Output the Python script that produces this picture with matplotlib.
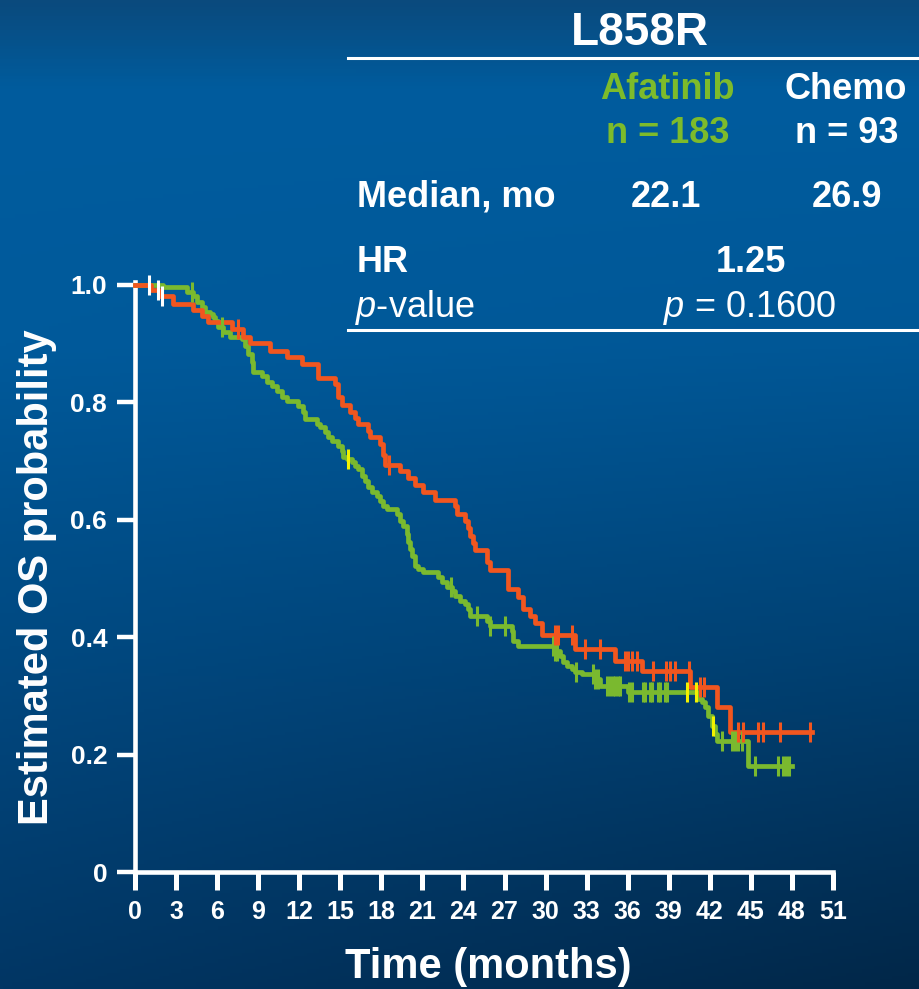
import numpy as np
import matplotlib
matplotlib.use('Agg')
import matplotlib.pyplot as plt
from matplotlib.lines import Line2D

W, H = 920, 989

# Chemo (red): drop times (months) and survival after each drop
chemo_t = [1.17, 1.75, 2.78, 4.24, 4.89, 5.33, 7.09, 7.89, 8.40, 9.86, 11.10, 12.2,
           13.37, 14.6, 14.83, 15.12, 15.7, 16.07, 16.29, 17.02, 17.17, 17.9, 18.12,
           18.26, 19.36, 19.94, 20.45, 21.04, 21.91, 23.37, 23.52, 24.1, 24.32, 24.47,
           24.69, 24.84, 25.71, 25.93, 27.25, 27.98, 28.34, 28.85, 29.22, 29.73, 32.14,
           35.06, 37.03, 40.54, 42.5, 43.46]
chemo_s = [0.991, 0.981, 0.968, 0.957, 0.947, 0.937, 0.925, 0.911, 0.901, 0.888, 0.877,
           0.865, 0.842, 0.831, 0.809, 0.796, 0.784, 0.773, 0.763, 0.751, 0.741, 0.729,
           0.710, 0.693, 0.683, 0.671, 0.659, 0.647, 0.634, 0.624, 0.610, 0.598, 0.586,
           0.572, 0.560, 0.549, 0.528, 0.515, 0.482, 0.469, 0.448, 0.436, 0.424, 0.404,
           0.380, 0.359, 0.342, 0.315, 0.281, 0.238]
chemo_end = 49.45
chemo_cens = [7.52, 18.55, 30.68, 30.90, 31.92, 32.87, 33.97, 35.79, 36.01, 36.30, 36.67,
              37.84, 38.79, 39.08, 39.45, 40.47, 41.27, 41.56, 44.05, 44.41, 45.51, 45.87,
              47.11, 49.31]
chemo_cens_white = [1.0, 1.65, 1.97]

# Afatinib (green)
afat_t = [2.05, 3.80, 4.24, 4.53, 4.89, 5.11, 5.48, 5.70, 5.84, 6.06, 6.43, 6.94, 7.82,
          8.04, 8.25, 8.55, 8.62, 9.28, 9.64, 10.01, 10.37, 10.74, 11.10, 11.91, 12.27,
          12.42, 13.29, 13.51, 13.88, 14.10, 14.39, 14.83, 15.12, 15.19, 15.49, 15.85,
          16.07, 16.29, 16.58, 16.80, 17.02, 17.31, 17.68, 17.90, 18.12, 18.41, 19.14,
          19.36, 19.58, 19.87, 19.94, 20.09, 20.23, 20.45, 20.67, 21.04, 22.13, 22.43,
          22.79, 23.16, 23.37, 23.74, 24.1, 24.32, 24.47, 25.71, 25.93, 27.54, 27.61,
          27.98, 30.68, 31.04, 31.26, 31.56, 31.92, 32.14, 32.65, 33.60, 33.97, 36.01,
          41.12, 41.42, 41.64, 41.86, 42.15, 42.37, 42.51, 44.78]
afat_s = [0.997, 0.988, 0.981, 0.971, 0.963, 0.954, 0.951, 0.945, 0.938, 0.928, 0.920,
          0.911, 0.908, 0.896, 0.882, 0.869, 0.852, 0.845, 0.835, 0.828, 0.819, 0.809,
          0.802, 0.794, 0.784, 0.772, 0.763, 0.758, 0.750, 0.741, 0.734, 0.726, 0.717,
          0.707, 0.704, 0.698, 0.692, 0.687, 0.675, 0.666, 0.656, 0.647, 0.641, 0.632,
          0.624, 0.618, 0.610, 0.598, 0.589, 0.576, 0.562, 0.550, 0.538, 0.521, 0.516,
          0.511, 0.503, 0.494, 0.486, 0.479, 0.470, 0.462, 0.457, 0.448, 0.436, 0.428,
          0.419, 0.411, 0.394, 0.385, 0.376, 0.368, 0.358, 0.351, 0.346, 0.341, 0.337,
          0.329, 0.317, 0.307, 0.295, 0.290, 0.281, 0.266, 0.249, 0.235, 0.223, 0.181]
afat_end = 48.0
afat_cens = [4.16, 6.36, 23.09, 24.99, 25.94, 27.03, 30.54, 30.69, 30.83, 32.22, 33.47,
             33.61, 33.83, 34.49, 34.71, 34.93, 35.07, 35.29, 35.44, 36.1, 36.31, 37.12,
             37.26, 37.63, 37.78, 38.21, 38.36, 38.73, 38.87, 42.89, 43.62, 43.84, 44.06,
             44.35, 45.3, 46.98, 47.35, 47.57, 47.79]
afat_cens_yellow = [15.55, 40.33, 41.0, 42.2]

x_ticks = list(range(0, 52, 3))
y_ticks = [0, 0.2, 0.4, 0.6, 0.8, 1.0]
y_ticklabels = ['0', '0.2', '0.4', '0.6', '0.8', '1.0']

RED = '#f1561f'
GREEN = '#7ab92f'
GREEN_TXT = '#7dbb2b'
YELLOW = '#f2f200'

plt.rcParams['font.family'] = ['Liberation Sans', 'DejaVu Sans']
plt.rcParams['mathtext.fontset'] = 'custom'
plt.rcParams['mathtext.it'] = 'Liberation Sans:italic'
plt.rcParams['mathtext.rm'] = 'Liberation Sans'

fig = plt.figure(figsize=(W / 100, H / 100), dpi=100)

# background gradient
bg = fig.add_axes([0, 0, 1, 1], zorder=-10)
yy, xx = np.mgrid[0:1:300j, 0:1:300j]
stops_y = [0.0, 0.09, 0.35, 1.0]
cols = np.array([[10, 74, 125], [0, 92, 158], [0, 90, 155], [2, 54, 100]]) / 255
img = np.stack([np.interp(yy, stops_y, cols[:, k]) for k in range(3)], axis=-1)
img *= (1 - 0.28 * xx * yy ** 2)[..., None]
bg.imshow(img, aspect='auto', extent=[0, 1, 1, 0])
bg.axis('off')

# plot axes
x0, x1 = 135, 833
y_zero = 872
unit = 587
ytop = 1.005
ax = fig.add_axes([x0 / W, (H - y_zero) / H, (x1 - x0) / W, ytop * unit / H])
ax.set_facecolor('none')
ax.set_xlim(0, 51)
ax.set_ylim(0, ytop)


def draw_curve(times, surv, end, color):
    t = np.r_[0, times, end]
    s = np.r_[1.0, surv, surv[-1]]
    ax.step(t, s, where='post', color=color, lw=3.4, zorder=3, clip_on=False)


def surv_at(times, surv, pts):
    idx = np.searchsorted(times, pts, side='right')
    return np.r_[1.0, surv][idx]


def draw_cens(times, surv, pts, color):
    ax.plot(pts, surv_at(times, surv, pts), ls='none', marker='|', ms=14, mew=2.2,
            color=color, zorder=4, clip_on=False)


draw_curve(afat_t, afat_s, afat_end, GREEN)
draw_curve(chemo_t, chemo_s, chemo_end, RED)
draw_cens(afat_t, afat_s, afat_cens, GREEN)
draw_cens(chemo_t, chemo_s, chemo_cens, RED)
draw_cens(afat_t, afat_s, afat_cens_yellow, YELLOW)
draw_cens(chemo_t, chemo_s, chemo_cens_white, 'white')

for side in ['top', 'right']:
    ax.spines[side].set_visible(False)
for side in ['left', 'bottom']:
    ax.spines[side].set_color('white')
    ax.spines[side].set_linewidth(3.3)
    ax.spines[side].set_capstyle('projecting')

ax.set_xticks(x_ticks)
ax.set_yticks(y_ticks)
ax.set_yticklabels(y_ticklabels)
ax.tick_params(axis='x', colors='white', length=13, width=3.6, pad=7, labelsize=18)
ax.tick_params(axis='y', colors='white', length=13, width=3.2, pad=7, labelsize=19)
for lab in ax.get_xticklabels() + ax.get_yticklabels():
    lab.set_fontweight('bold')


def ftext(x, y, s, **kw):
    fig.text(x / W, 1 - y / H, s, **kw)


ftext(37, 577, 'Estimated OS probability', rotation=90, ha='center', va='center',
      color='white', fontsize=30, fontweight='bold')
ftext(488, 978, 'Time (months)', ha='center', va='baseline', color='white',
      fontsize=30, fontweight='bold')

# summary table
B = dict(fontsize=26, fontweight='bold', va='baseline')
ftext(640, 45, 'L858R', ha='center', color='white', fontsize=33, fontweight='bold',
      va='baseline')
ftext(667, 99, 'Afatinib', ha='center', color=GREEN_TXT, **B)
ftext(668, 143, 'n = 183', ha='center', color=GREEN_TXT, **B)
ftext(846, 99, 'Chemo', ha='center', color='white', **B)
ftext(847, 143, 'n = 93', ha='center', color='white', **B)
ftext(357, 207, 'Median, mo', ha='left', color='white', **B)
ftext(666, 207, '22.1', ha='center', color='white', **B)
ftext(847, 207, '26.9', ha='center', color='white', **B)
ftext(357, 272, 'HR', ha='left', color='white', **B)
ftext(751, 272, '1.25', ha='center', color='white', **B)
ftext(355, 317, r'$\mathit{p}$-value', ha='left', va='baseline', color='white',
      fontsize=26)
ftext(750, 317, r'$\mathit{p}$ = 0.1600', ha='center', va='baseline', color='white',
      fontsize=26)

for yl in [58, 330]:
    fig.add_artist(Line2D([348 / W, 1.0], [1 - yl / H, 1 - yl / H], color='white',
                          lw=2.2, transform=fig.transFigure))

fig.savefig('out.png', dpi=100)
